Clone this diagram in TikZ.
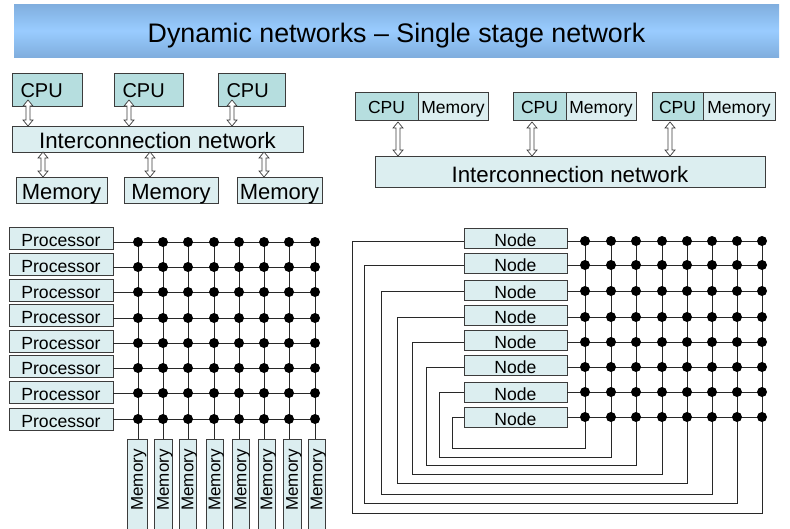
\documentclass[tikz,border=0pt]{standalone}
\usepackage{fontspec}
\setmainfont{Liberation Sans}
\newcommand\myfs[1]{\fontsize{#1}{#1}\selectfont}
\definecolor{cpuc}{RGB}{182,222,223}
\definecolor{memc}{RGB}{220,238,240}
\definecolor{edgec}{RGB}{60,60,60}
\definecolor{ttop}{RGB}{128,174,222}
\definecolor{tmid}{RGB}{153,204,255}
\definecolor{wirec}{RGB}{40,40,40}
\newcommand\dblarr[3]{%
 \draw[arrowshape] (#1,#2) -- (#1+5,#2+6) -- (#1+2,#2+6) -- (#1+2,#3-6) -- (#1+5,#3-6) -- (#1,#3) -- (#1-5,#3-6) -- (#1-2,#3-6) -- (#1-2,#2+6) -- (#1-5,#2+6) -- cycle;}
\begin{document}
\begin{tikzpicture}[x=1pt,y=-1pt,
 box/.style={draw=edgec, line width=0.8pt, inner sep=0pt, text depth=0pt, text height=16.6pt, font=\myfs{17.6}},
 cpubox/.style={box, fill=cpuc},
 membox/.style={box, fill=memc},
 arrowshape/.style={draw=edgec, fill=white, line width=0.7pt, line join=miter},
 wire/.style={draw=wirec, line width=0.75pt},
 lcpu/.style={cpubox, font=\myfs{20}, align=left, inner xsep=8.5, minimum height=33, text height=16.3pt}]
\useasboundingbox (0,0) rectangle (790,528);
\clip (0,0) rectangle (790,528);
% title
\shade[top color=ttop, bottom color=ttop, middle color=tmid] (14,4) rectangle (779,57);
\node[font=\myfs{26.8}, text depth=0pt, inner sep=0pt] (title) at (396.5,32.5) {Dynamic networks – Single stage network};
% top left
\node[lcpu, minimum width=70, text width=53] (cpuA) at (47,89.5) {CPU};
\node[lcpu, minimum width=69, text width=52] (cpuB) at (148.5,89.5) {CPU};
\node[lcpu, minimum width=67, text width=50] (cpuC) at (251.5,89.5) {CPU};
\node[membox, minimum width=291, minimum height=26, font=\myfs{22.3}, text height=18.4pt] (netL) at (157.5,139) {Interconnection network};
\tikzset{lmem/.style={membox, minimum height=26, font=\myfs{22}, text height=18.8pt}}
\node[lmem, minimum width=91] (memA) at (61.5,190) {Memory};
\node[lmem, minimum width=94] (memB) at (171,190) {Memory};
\node[lmem, minimum width=85] (memC) at (279.5,190) {Memory};
\dblarr{28}{100}{126}
\dblarr{129}{100}{126}
\dblarr{232}{100}{126}
\dblarr{43}{152}{177}
\dblarr{150}{152}{177}
\dblarr{264}{152}{177}
% top right
\tikzset{rbox/.style={minimum height=28, font=\myfs{17.5}, text height=14.5pt}}
\node[cpubox, rbox, minimum width=63] (rc1) at (386.5,106) {CPU};
\node[membox, rbox, minimum width=70] (rm1) at (453,106) {Memory};
\node[cpubox, rbox, minimum width=53] (rc2) at (539.5,106) {CPU};
\node[membox, rbox, minimum width=70] (rm2) at (601,106) {Memory};
\node[cpubox, rbox, minimum width=51] (rc3) at (677.5,106) {CPU};
\node[membox, rbox, minimum width=72] (rm3) at (739,106) {Memory};
\node[membox, minimum width=390, minimum height=31, font=\myfs{22.3}, text height=21.6pt] (netR) at (570,171.5) {Interconnection network};
\dblarr{398}{122}{156}
\dblarr{532}{122}{156}
\dblarr{670}{122}{156}
% bottom left crossbar
\foreach \y [count=\i] in {238,264,290,315.5,341.5,366.5,392.5,419}
  \node[membox, minimum width=104, minimum height=22] (P\i) at (61,\y) {Processor};
\foreach \ry [count=\r] in {242,267,292,318,343,368,393,419}
  \foreach \cx [count=\c] in {138,163,188,214,239,264,289,315}
    \coordinate (L\r-\c) at (\cx,\ry);
\foreach \mx/\mw [count=\c] in {137/20,163/18,187.5/17,214.5/17,240.5/17,266.5/17,292/18,316.5/17} {
  \node[membox, minimum width=\mw, minimum height=100, anchor=north] (LM\c) at (\mx,439) {};
  \node[rotate=90, font=\myfs{17}, text depth=0pt, inner sep=0pt] (LMt\c) at (\mx,480) {Memory};
}
\foreach \r in {1,...,8}
  \draw[wire] (P\r.east |- L\r-1) -- (L\r-8);
\foreach \c in {1,...,8}
  \draw[wire] (L1-\c) -- (L1-\c |- LM\c.north);
\foreach \r in {1,...,8}
  \foreach \c in {1,...,8}
    \fill (L\r-\c) circle (5pt);
% bottom right crossbar with loops
\foreach \y [count=\i] in {238,263,290.5,315.5,340.5,365.5,392,417}
  \node[membox, minimum width=103, minimum height=20] (N\i) at (515.5,\y) {Node};
\foreach \ry [count=\r] in {241,265,291,317,342,367,392,417}
  \foreach \cx [count=\c] in {585,611,636,662,687,712,737,762}
    \coordinate (R\r-\c) at (\cx,\ry);
\foreach \r in {1,...,8}
  \draw[wire] (N\r.east |- R\r-1) -- (R\r-8);
\foreach \c in {1,...,8}
  \draw[wire] (R1-\c) -- (R8-\c);
\foreach \lx/\by [count=\i] in {352/513,364/503,381/494,397/483,412/474,426/465,439/457,452/448} {
  \pgfmathtruncatemacro\cc{9-\i}
  \draw[wire] (N\i.west |- R\i-1) -| (\lx,\by) -| (R8-\cc);
}
\foreach \r in {1,...,8}
  \foreach \c in {1,...,8}
    \fill (R\r-\c) circle (5pt);
\end{tikzpicture}
\end{document}
